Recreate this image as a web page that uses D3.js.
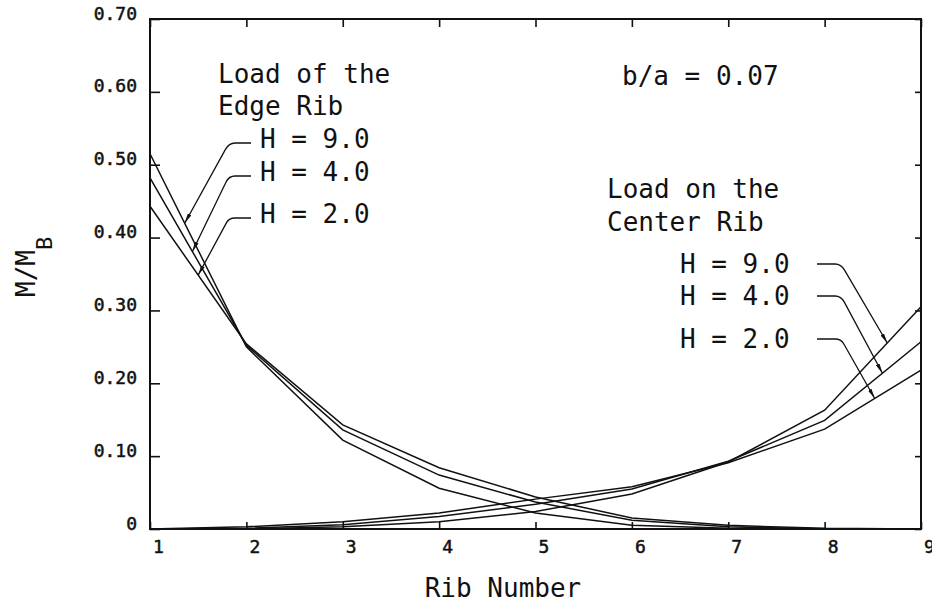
<!DOCTYPE html>
<html>
<head>
<meta charset="utf-8">
<script src="https://cdn.jsdelivr.net/npm/d3@7/dist/d3.min.js"></script>
<style>
  body { margin: 0; background: #fff; }
  text { font-family: "DejaVu Sans Mono", monospace; fill: #111; }
  .tick line { stroke: #111; stroke-width: 1.6; }
</style>
</head>
<body>
<script>
// rib numbers along the x axis
var ribs = [1, 2, 3, 4, 5, 6, 7, 8, 9];

// M/MB, load on the edge rib
var edgeH9 = [0.515, 0.250, 0.122, 0.056, 0.022, 0.005, 0.001, 0.000, 0.000];
var edgeH4 = [0.482, 0.252, 0.136, 0.074, 0.037, 0.012, 0.003, 0.000, 0.000];
var edgeH2 = [0.443, 0.254, 0.143, 0.084, 0.044, 0.015, 0.005, 0.001, 0.000];

// M/MB, load on the center rib
var centerH9 = [0.000, 0.000, 0.003, 0.010, 0.024, 0.048, 0.092, 0.163, 0.305];
var centerH4 = [0.000, 0.001, 0.006, 0.017, 0.034, 0.055, 0.093, 0.149, 0.257];
var centerH2 = [0.000, 0.003, 0.010, 0.022, 0.041, 0.058, 0.091, 0.137, 0.218];

var hLabels = ["H = 9.0", "H = 4.0", "H = 2.0"];
// rib where each leader arrow touches its curve
var edgeArrowAt = [1.36, 1.44, 1.50];
var centerArrowAt = [8.65, 8.60, 8.52];

var yTicks = [0, 0.1, 0.2, 0.3, 0.4, 0.5, 0.6, 0.7];
var yTickLabels = ["0", "0.10", "0.20", "0.30", "0.40", "0.50", "0.60", "0.70"];
var xTickLabels = ["1", "2", "3", "4", "5", "6", "7", "8", "9"];

var width = 932,
    height = 607;

var svg = d3.select("body").append("svg")
    .attr("width", width)
    .attr("height", height);

var x = d3.scaleLinear().domain([1, 9]).range([150, 921]);
var y = d3.scaleLinear().domain([0, 0.7]).range([529, 19]);

svg.append("defs").append("marker")
    .attr("id", "arrow")
    .attr("viewBox", "0 0 10 4")
    .attr("refX", 10)
    .attr("refY", 2)
    .attr("markerWidth", 10)
    .attr("markerHeight", 4)
    .attr("markerUnits", "userSpaceOnUse")
    .attr("orient", "auto")
  .append("path")
    .attr("d", "M0,0L10,2L0,4Z")
    .attr("fill", "#111");

// axes, ticks pointing inward
var left = svg.append("g")
    .attr("transform", "translate(" + x.range()[0] + ",0)")
    .call(d3.axisLeft(y).tickValues(yTicks).tickSize(-10).tickSizeOuter(0).tickPadding(13)
      .tickFormat(function(d, i) { return yTickLabels[i]; }));
left.selectAll("text").attr("dy", 0)
    .style("font-size", "18px").style("stroke", "#111").style("stroke-width", 0.5);

svg.append("g")
    .attr("transform", "translate(" + x.range()[1] + ",0)")
    .call(d3.axisRight(y).tickValues(yTicks).tickSize(-6).tickSizeOuter(0).tickFormat(""));

var bottom = svg.append("g")
    .attr("transform", "translate(0," + y.range()[0] + ")")
    .call(d3.axisBottom(x).tickValues(ribs).tickSize(-7).tickSizeOuter(0)
      .tickFormat(function(d, i) { return xTickLabels[i]; }));
bottom.selectAll("text").attr("y", 24).attr("dy", 0).attr("dx", 8)
    .style("font-size", "18px").style("stroke", "#111").style("stroke-width", 0.5);

svg.append("g")
    .attr("transform", "translate(0," + y.range()[1] + ")")
    .call(d3.axisTop(x).tickValues(ribs).tickSize(-8).tickSizeOuter(0).tickFormat(""));

svg.selectAll(".domain").remove();

svg.append("rect")
    .attr("x", x.range()[0])
    .attr("y", y.range()[1])
    .attr("width", x.range()[1] - x.range()[0])
    .attr("height", y.range()[0] - y.range()[1])
    .attr("fill", "none")
    .attr("stroke", "#111")
    .attr("stroke-width", 2);

// curves
var line = d3.line()
    .x(function(d, i) { return x(ribs[i]); })
    .y(function(d) { return y(d); });

var allSeries = [edgeH9, edgeH4, edgeH2, centerH9, centerH4, centerH2];

svg.append("g")
    .attr("class", "curves")
  .selectAll("path")
  .data(allSeries)
  .enter().append("path")
    .attr("d", line)
    .attr("fill", "none")
    .attr("stroke", "#111")
    .attr("stroke-width", 1.5);

function valueAt(series, r) {
  return d3.scaleLinear().domain(ribs).range(series)(r);
}

function leader(x0, y0, ex, dir, tx, ty) {
  // horizontal run, rounded elbow, then straight to the arrow tip
  var r = 6;
  return "M" + x0 + "," + y0 + "L" + (ex - dir * r) + "," + y0 +
    "Q" + ex + "," + y0 + " " + (ex + (tx - ex) * 0.08) + "," + (y0 + (ty - y0) * 0.08) +
    "L" + tx + "," + ty;
}

var notes = svg.append("g").style("font-size", "26px");

// edge rib annotation
notes.append("text").attr("x", 218).attr("y", 83).text("Load of the");
notes.append("text").attr("x", 218).attr("y", 115).text("Edge Rib");

var edgeSeries = [edgeH9, edgeH4, edgeH2];
var edgeBase = [148, 181, 223];
hLabels.forEach(function(lab, i) {
  notes.append("text").attr("x", 260).attr("y", edgeBase[i]).text(lab);
  var r = edgeArrowAt[i];
  notes.append("path")
      .attr("d", leader(251, edgeBase[i] - 5, 229, -1, x(r), y(valueAt(edgeSeries[i], r))))
      .attr("fill", "none")
      .attr("stroke", "#111")
      .attr("stroke-width", 1.3)
      .attr("marker-end", "url(#arrow)");
});

notes.append("text").attr("x", 622).attr("y", 85).text("b/a = 0.07");

// center rib annotation
notes.append("text").attr("x", 607).attr("y", 198).text("Load on the");
notes.append("text").attr("x", 607).attr("y", 231).text("Center Rib");

var centerSeries = [centerH9, centerH4, centerH2];
var centerBase = [273, 305, 348];
hLabels.forEach(function(lab, i) {
  notes.append("text").attr("x", 680).attr("y", centerBase[i]).text(lab);
  var r = centerArrowAt[i];
  notes.append("path")
      .attr("d", leader(817, centerBase[i] - 9, 841, 1, x(r), y(valueAt(centerSeries[i], r))))
      .attr("fill", "none")
      .attr("stroke", "#111")
      .attr("stroke-width", 1.3)
      .attr("marker-end", "url(#arrow)");
});

// axis titles
svg.append("text")
    .attr("x", 503)
    .attr("y", 597)
    .attr("text-anchor", "middle")
    .style("font-size", "26px")
    .text("Rib Number");

var yl = svg.append("text")
    .attr("transform", "translate(35,297) rotate(-90)")
    .style("font-size", "26px");
yl.append("tspan").text("M/M");
yl.append("tspan").attr("dy", 17).style("font-size", "22px").text("B");
</script>
</body>
</html>
